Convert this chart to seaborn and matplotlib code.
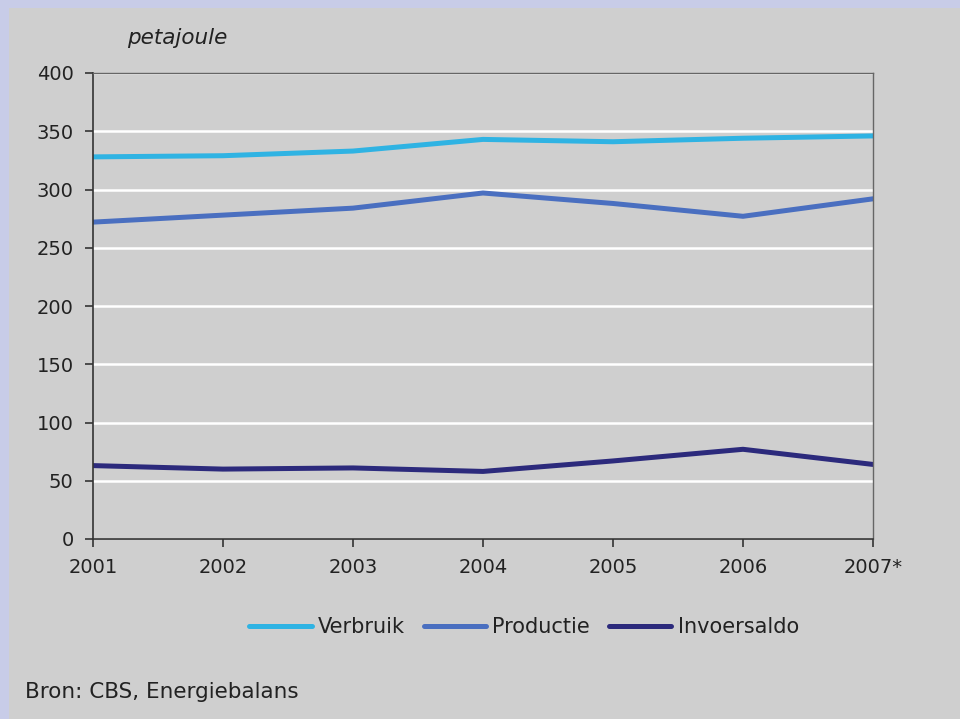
import numpy as np
import pandas as pd
import matplotlib.pyplot as plt
import seaborn as sns

# Data
jaren = ['2001', '2002', '2003', '2004', '2005', '2006', '2007*']
verbruik = [328, 329, 333, 343, 341, 344, 346]
productie = [272, 278, 284, 297, 288, 277, 292]
invoersaldo = [63, 60, 61, 58, 67, 77, 64]

reeksen = ['Verbruik', 'Productie', 'Invoersaldo']
kleuren = ['#2fb3e3', '#4a6fc0', '#2c2a7c']

df = pd.DataFrame({
    'pos': list(range(len(jaren))) * 3,
    'waarde': verbruik + productie + invoersaldo,
    'reeks': np.repeat(reeksen, len(jaren)),
})

sns.set_style("white")
plt.rcParams['font.family'] = ['DejaVu Sans']

BG = '#cfcfcf'
fig = plt.figure(figsize=(9.6, 7.19), dpi=100, facecolor='#c8cce8')
# grey panel, lavender border only on top and left
fig.patches.append(plt.Rectangle((9 / 960, 0), 1, 1 - 8 / 719, transform=fig.transFigure,
                                 facecolor=BG, edgecolor='none', zorder=-5))

ax = fig.add_axes([93 / 960, 180 / 719, 780 / 960, 466 / 719])
ax.set_zorder(2)
ax.set_facecolor(BG)

sns.lineplot(data=df, x='pos', y='waarde', hue='reeks', hue_order=reeksen,
             palette=kleuren, linewidth=3.6, ax=ax, legend=False)

ax.set_xlim(0, len(jaren) - 1)
ax.set_ylim(0, 400)
ax.set_yticks(range(0, 401, 50))
ax.set_xticks(range(len(jaren)))
ax.set_xticklabels(jaren)
ax.set_xlabel('')
ax.set_ylabel('')
ax.grid(axis='y', color='white', linewidth=1.8)
ax.set_axisbelow(True)

for side in ['left', 'bottom']:
    ax.spines[side].set_color('#333333')
    ax.spines[side].set_linewidth(1.2)
for side in ['top', 'right']:
    ax.spines[side].set_color('#666666')
    ax.spines[side].set_linewidth(1.0)

ax.tick_params(axis='both', which='both', direction='out', length=6, width=1.2,
               color='#333333', labelsize=14, labelcolor='#222222')
ax.tick_params(axis='y', pad=8)
ax.tick_params(axis='x', pad=8)
ax.tick_params(axis='both', left=True, bottom=True)

fig.text(127 / 960, 1 - 38 / 719, 'petajoule', fontsize=15.5, style='italic',
         color='#222222', va='center', ha='left')

handles = [plt.Line2D([], [], color=c, linewidth=3.6) for c in kleuren]
fig.legend(handles, reeksen, loc='center', ncol=3, frameon=False,
           bbox_to_anchor=(524 / 960, 1 - 627 / 719), fontsize=15,
           handlelength=3.0, handletextpad=0.3, columnspacing=0.9,
           labelcolor='#222222')

fig.text(25 / 960, 1 - 692 / 719, 'Bron: CBS, Energiebalans', fontsize=15.5,
         color='#222222', va='center', ha='left')

fig.savefig('out.png', dpi=100, facecolor=fig.get_facecolor())
